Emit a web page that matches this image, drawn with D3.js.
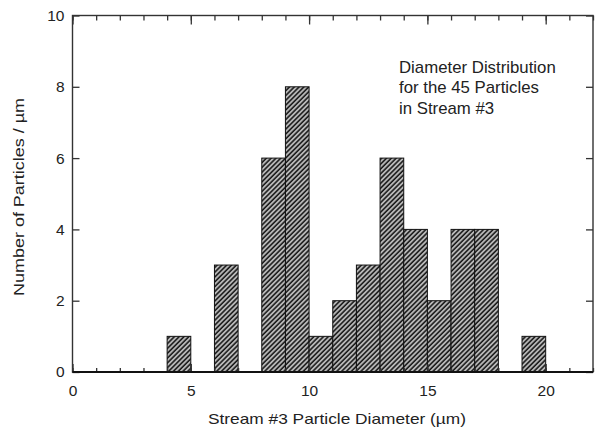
<!DOCTYPE html>
<html>
<head>
<meta charset="utf-8">
<script src="https://cdn.jsdelivr.net/npm/d3@7"></script>
<style>
  body { margin: 0; background: #fff; }
  svg text { font-family: 'Liberation Sans', Arial, sans-serif; fill: #222; }
</style>
</head>
<body>
<svg class="chart" width="595" height="432"></svg>
<script>
// histogram bins (µm) and counts
const binStart = [4, 6, 8, 9, 10, 11, 12, 13, 14, 15, 16, 17, 19];
const counts = [1, 3, 6, 8, 1, 2, 3, 6, 4, 2, 4, 4, 1];
const xMajor = [0, 5, 10, 15, 20];
const xMinor = d3.range(0, 23);
const yMajor = [0, 2, 4, 6, 8, 10];
const noteLines = ['Diameter Distribution', 'for the 45 Particles', 'in Stream #3'];

const LEFT = 72.5;
const RIGHT = 593;
const TOP = 15.5;
const BOTTOM = 372;

const svg = d3.select('.chart');

const x = d3.scaleLinear().domain([0, 22]).range([LEFT, RIGHT]);
const y = d3.scaleLinear().domain([0, 10]).range([BOTTOM, TOP]);

// hatch pattern
svg.append('defs')
  .append('pattern')
  .attr('id', 'hatch')
  .attr('patternUnits', 'userSpaceOnUse')
  .attr('width', 3.4)
  .attr('height', 3.4)
  .attr('patternTransform', 'rotate(45)')
  .call((p) => {
    p.append('rect').attr('width', 3.4).attr('height', 3.4).attr('fill', '#c0c0c0');
    p.append('line')
      .attr('x1', 1).attr('x2', 1)
      .attr('y1', 0).attr('y2', 3.4)
      .attr('stroke', '#151515')
      .attr('stroke-width', 1.6);
  });

const bins = binStart.map((s, i) => ({ s, n: counts[i] }));

svg.append('g')
  .selectAll('rect')
  .data(bins)
  .enter()
  .append('rect')
  .attr('x', (d) => x(d.s))
  .attr('y', (d) => y(d.n))
  .attr('width', (d) => x(d.s + 1) - x(d.s))
  .attr('height', (d) => y(0) - y(d.n))
  .attr('fill', 'url(#hatch)')
  .attr('stroke', '#111')
  .attr('stroke-width', 1);

const styleAxis = (g) => {
  g.select('.domain').remove();
  g.selectAll('line').attr('stroke', '#333').attr('stroke-width', 1.3);
  g.selectAll('text')
    .style('font-family', "'Liberation Sans', Arial, sans-serif")
    .style('font-size', '15.5px')
    .attr('fill', '#222');
};

// bottom
svg.append('g')
  .attr('transform', `translate(0,${BOTTOM})`)
  .call(d3.axisBottom(x).tickValues(xMinor).tickSize(-4).tickFormat(''))
  .call(styleAxis);
svg.append('g')
  .attr('transform', `translate(0,${BOTTOM})`)
  .call(d3.axisBottom(x).tickValues(xMajor).tickSize(-8).tickPadding(13).tickFormat(d3.format('d')))
  .call(styleAxis);

// top
svg.append('g')
  .attr('transform', `translate(0,${TOP})`)
  .call(d3.axisTop(x).tickValues(xMinor).tickSize(-5).tickFormat(''))
  .call(styleAxis);
svg.append('g')
  .attr('transform', `translate(0,${TOP})`)
  .call(d3.axisTop(x).tickValues(xMajor).tickSize(-9).tickFormat(''))
  .call(styleAxis);

// left
svg.append('g')
  .attr('transform', `translate(${LEFT},0)`)
  .call(d3.axisLeft(y).tickValues(yMajor).tickSize(-7).tickPadding(8).tickFormat(d3.format('d')))
  .call(styleAxis);

// right
svg.append('g')
  .attr('transform', `translate(${RIGHT},0)`)
  .call(d3.axisRight(y).tickValues(yMajor).tickSize(-7).tickFormat(''))
  .call(styleAxis);

// frame
svg.append('rect')
  .attr('x', LEFT)
  .attr('y', TOP)
  .attr('width', RIGHT - LEFT)
  .attr('height', BOTTOM - TOP)
  .attr('fill', 'none')
  .attr('stroke', '#333')
  .attr('stroke-width', 1.4);
svg.append('line')
  .attr('x1', LEFT).attr('x2', RIGHT)
  .attr('y1', BOTTOM).attr('y2', BOTTOM)
  .attr('stroke', '#111')
  .attr('stroke-width', 2.2);

// axis titles (the original type is set a little wide)
svg.append('text')
  .attr('x', 337)
  .attr('y', 424)
  .attr('text-anchor', 'middle')
  .attr('textLength', 258)
  .attr('lengthAdjust', 'spacingAndGlyphs')
  .style('font-size', '15px')
  .text('Stream #3 Particle Diameter (µm)');

svg.append('text')
  .attr('transform', 'translate(24,197) rotate(-90)')
  .attr('text-anchor', 'middle')
  .attr('textLength', 198)
  .attr('lengthAdjust', 'spacingAndGlyphs')
  .style('font-size', '15px')
  .text('Number of Particles / µm');

// note
svg.append('text')
  .attr('transform', 'translate(399,0) scale(1.05,1)')
  .attr('y', 73)
  .style('font-size', '16px')
  .selectAll('tspan')
  .data(noteLines)
  .enter()
  .append('tspan')
  .attr('x', 0)
  .attr('dy', (d, i) => (i === 0 ? 0 : 20.5))
  .text((d) => d);
</script>
</body>
</html>
